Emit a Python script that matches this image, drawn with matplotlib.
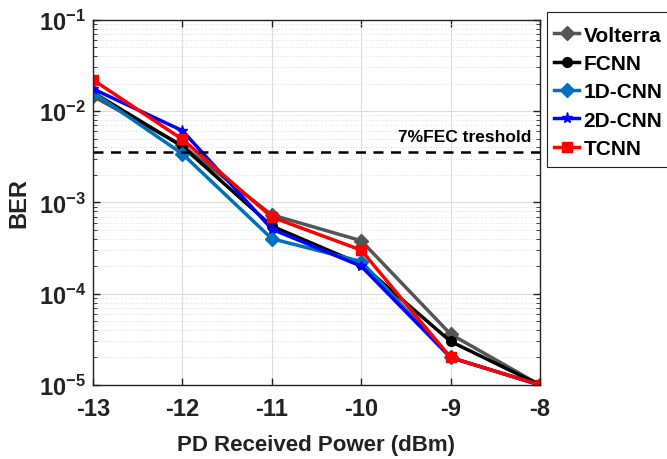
import matplotlib
matplotlib.use("Agg")
import matplotlib.pyplot as plt
from matplotlib.patches import Rectangle
from matplotlib.ticker import LogLocator, NullFormatter

power = [-13, -12, -11, -10, -9, -8]
volterra = [1.45e-2, 4.2e-3, 7.3e-4, 3.8e-4, 3.6e-5, 1.0e-5]
fcnn = [1.6e-2, 4.1e-3, 5.5e-4, 2.1e-4, 3.0e-5, 1.0e-5]
cnn1d = [1.6e-2, 3.4e-3, 4.0e-4, 2.25e-4, 2.0e-5, 1.0e-5]
cnn2d = [1.75e-2, 6.1e-3, 5.1e-4, 2.0e-4, 2.0e-5, 1.0e-5]
tcnn = [2.2e-2, 4.9e-3, 6.9e-4, 3.0e-4, 2.0e-5, 1.0e-5]
fec_threshold = 3.6e-3
labels = ["Volterra", "FCNN", "1D-CNN", "2D-CNN", "TCNN"]
xticks = [-13, -12, -11, -10, -9, -8]

plt.rcParams['font.family'] = ['Liberation Sans', 'DejaVu Sans']
plt.rcParams['font.weight'] = 'bold'
plt.rcParams['axes.unicode_minus'] = False
plt.rcParams['mathtext.fontset'] = 'custom'
plt.rcParams['mathtext.rm'] = 'Liberation Sans:bold'
plt.rcParams['mathtext.bf'] = 'Liberation Sans:bold'
plt.rcParams['mathtext.default'] = 'rm'

fig = plt.figure(figsize=(6.67, 4.6), dpi=100)
ax = fig.add_axes([0.1394, 0.1609, 0.6702, 0.794])

series = [volterra, fcnn, cnn1d, cnn2d, tcnn]
colors = ["#555555", "#000000", "#0072BD", "#0000FF", "#FF0000"]
markers = ["D", "o", "D", "*", "s"]
msizes = [7, 7, 7, 8, 7]
for y, c, m, ms, lab in zip(series, colors, markers, msizes, labels):
    ax.plot(power, y, color=c, marker=m, markersize=ms, linewidth=2.5, label=lab,
            markerfacecolor=c, markeredgecolor=c)

ax.axhline(fec_threshold, color="black", linestyle=(0, (4, 3)), linewidth=1.8)
ax.text(-8.84, fec_threshold * 1.22, "7%FEC treshold", fontsize=12.5, fontweight='bold',
        ha='center', va='bottom')

ax.set_yscale('log')
ax.set_ylim(1e-5, 1e-1)
ax.set_xlim(-13, -8)
ax.set_xticks(xticks)
ax.set_xticklabels([str(v) for v in xticks])
ax.yaxis.set_major_locator(LogLocator(base=10, numticks=10))
ax.yaxis.set_minor_locator(LogLocator(base=10, subs=range(2, 10), numticks=20))
ax.yaxis.set_minor_formatter(NullFormatter())

ax.grid(True, which='major', color='#dddddd', linewidth=0.8)
ax.grid(True, which='minor', axis='y', color='#d5d5d5', linestyle=(0, (1, 2)), linewidth=0.6)
ax.set_axisbelow(True)

ax.tick_params(axis='both', which='major', labelsize=17, direction='in', length=5, width=1,
               top=True, right=True, colors='#222222')
ax.tick_params(axis='x', which='major', pad=9)
ax.tick_params(axis='y', which='major', pad=5)
ax.tick_params(axis='y', which='minor', direction='in', length=3, right=True, colors='#222222')

for s in ax.spines.values():
    s.set_linewidth(1.0)
    s.set_color('#222222')

ax.set_xlabel("PD Received Power (dBm)", fontsize=16, fontweight='bold', color='#222222',
              labelpad=10)
ax.set_ylabel("BER", fontsize=17, fontweight='bold', color='#222222', labelpad=6)

leg = ax.legend(loc='upper left', bbox_to_anchor=(1.0157, 1.004), fontsize=15,
                frameon=False, handlelength=1.2, handletextpad=0.2, borderpad=0.35,
                labelspacing=0.45, borderaxespad=0)
for t in leg.get_texts():
    t.set_fontweight('bold')

# legend frame (taller top padding as in the reference), drawn beneath the axes
fig.patches.append(Rectangle((0.8201, 0.6348), 0.25, 0.337, transform=fig.transFigure,
                             facecolor='white', edgecolor='#222222', linewidth=0.8,
                             zorder=-1))

fig.savefig("out.png", dpi=100)
